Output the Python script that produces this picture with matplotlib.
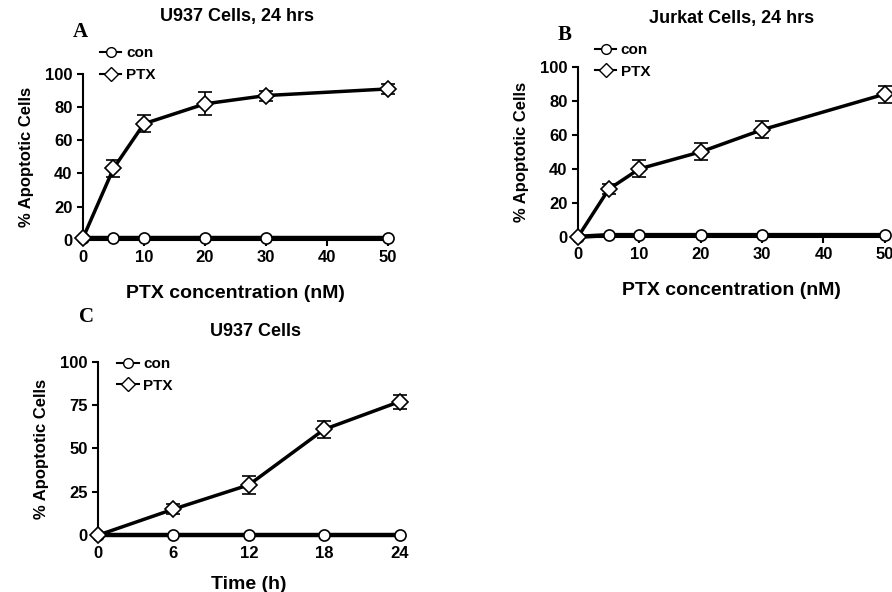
import numpy as np
from matplotlib import pyplot as plt
from matplotlib.lines import Line2D

# panel A: U937, dose
conc = [0, 5, 10, 20, 30, 50]
a_ptx = [1, 43, 70, 82, 87, 91]
a_ptx_err = [0, 5, 5, 7, 3, 3]
a_con = [1, 1, 1, 1, 1, 1]

# panel B: Jurkat, dose
b_ptx = [0, 28, 40, 50, 63, 84]
b_ptx_err = [0, 3, 5, 5, 5, 5]
b_con = [0, 1, 1, 1, 1, 1]

# panel C: U937, time
hours = [0, 6, 12, 18, 24]
c_ptx = [0, 15, 29, 61, 77]
c_ptx_err = [0, 3, 5, 5, 4]
c_con = [0, 0, 0, 0, 0]

plt.rcParams['font.family'] = 'Liberation Sans'
plt.rcParams['font.weight'] = 'bold'
plt.rcParams['axes.labelweight'] = 'bold'
plt.rcParams['font.size'] = 11
plt.rcParams['xtick.direction'] = 'out'
plt.rcParams['ytick.direction'] = 'out'

fig = plt.figure(figsize=(8.92, 5.92), dpi=100)


def panel(rect, x, con, ptx, err, xticks, yticks, title, title_xy, letter, letter_xy,
          xlabel, xpad, leg_xy):
    ax = fig.add_axes(rect)
    ax.plot(x, con, '-', color='black', lw=3.2, marker='o', ms=8, mfc='white', mec='black',
            mew=1.2, clip_on=False, zorder=3)
    ax.errorbar(x, ptx, yerr=err, fmt='-', color='black', lw=2.5, marker='D', ms=8,
                mfc='white', mec='black', mew=1.2, ecolor='black', elinewidth=1.2,
                capsize=5, capthick=1.2, clip_on=False, zorder=4)
    ax.set_xlim(xticks[0], xticks[-1])
    ax.set_ylim(yticks[0], yticks[-1])
    ax.set_xticks(xticks)
    ax.set_yticks(yticks)
    ax.spines['top'].set_visible(False)
    ax.spines['right'].set_visible(False)
    ax.spines['left'].set_linewidth(1.5)
    ax.spines['bottom'].set_linewidth(1.5)
    ax.tick_params(width=1.5, length=4, labelsize=12)
    ax.set_xlabel(xlabel, fontsize=14, labelpad=xpad)
    ax.set_ylabel('% Apoptotic Cells', fontsize=12, labelpad=8)
    fig.text(title_xy[0] / 892, 1 - title_xy[1] / 592, title, fontsize=13,
             fontweight='bold', ha='center', va='center')
    fig.text(letter_xy[0] / 892, 1 - letter_xy[1] / 592, letter, fontsize=15,
             fontweight='bold', family='Liberation Serif', ha='center', va='center')
    handles = [
        Line2D([], [], color='black', lw=1.5, marker='o', ms=7, mfc='white', mec='black'),
        Line2D([], [], color='black', lw=1.5, marker='D', ms=7, mfc='white', mec='black'),
    ]
    ax.legend(handles, ['con', 'PTX'], loc='center left', bbox_to_anchor=leg_xy,
              frameon=False, fontsize=11, handlelength=1.4, handletextpad=0.3,
              labelspacing=0.5, borderpad=0, borderaxespad=0)
    return ax


panel([0.093, 0.595, 0.342, 0.280], conc, a_con, a_ptx, a_ptx_err,
      [0, 10, 20, 30, 40, 50], [0, 20, 40, 60, 80, 100],
      'U937 Cells, 24 hrs', (237, 17), 'A', (80, 32),
      'PTX concentration (nM)', 14, (0.056, 1.06))

panel([0.648, 0.600, 0.344, 0.287], conc, b_con, b_ptx, b_ptx_err,
      [0, 10, 20, 30, 40, 50], [0, 20, 40, 60, 80, 100],
      'Jurkat Cells, 24 hrs', (732, 19), 'B', (565, 35),
      'PTX concentration (nM)', 14, (0.055, 1.035))

panel([0.110, 0.096, 0.338, 0.293], hours, c_con, c_ptx, c_ptx_err,
      [0, 6, 12, 18, 24], [0, 25, 50, 75, 100],
      'U937 Cells', (255, 332), 'C', (87, 317),
      'Time (h)', 11, (0.063, 0.925))

fig.savefig('out.png', dpi=100)
